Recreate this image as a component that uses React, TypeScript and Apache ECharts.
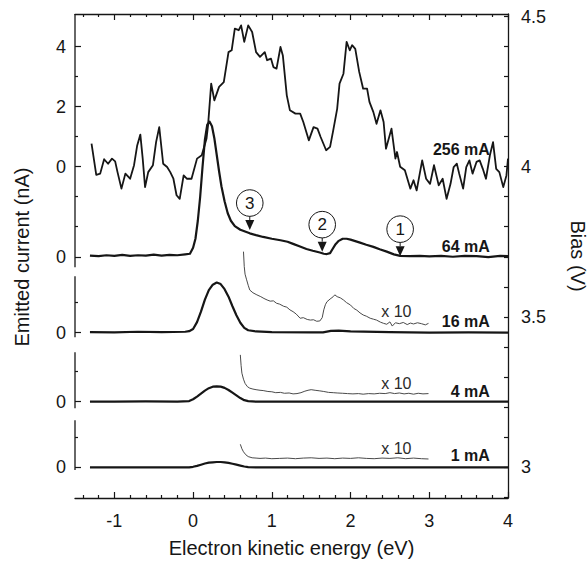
import React, { useEffect, useRef } from 'react';
import * as echarts from 'echarts';

const FONT = '"Liberation Sans", Arial, Helvetica, sans-serif';
const INK = '#161616';
const THIN = '#4a4a4a';

// ---- axes ----
const energyMajorTicks = [-1, 0, 1, 2, 3, 4];
const energyMinorTicks = [-1.4, -1.2, -0.8, -0.6, -0.4, -0.2, 0.2, 0.4, 0.6, 0.8, 1.2, 1.4, 1.6, 1.8, 2.2, 2.4, 2.6, 2.8, 3.2, 3.4, 3.6, 3.8];
const biasTicks = [2.9, 3.0, 3.1, 3.2, 3.3, 3.4, 3.5, 3.6, 3.7, 3.8, 3.9, 4.0, 4.1, 4.2, 4.3, 4.4, 4.5];
const biasLabels = [3, 3.5, 4, 4.5];
const BIAS_MIN = 2.896;
const BIAS_MAX = 4.509;
const NA_TO_V = 0.1; // vertical scale: 1 nA per 0.1 V
const leftTitle = 'Emitted current (nA)';

// ---- panels (offset baselines on bias axis) ----
const panelNames = ['256 mA', '64 mA', '16 mA', '4 mA', '1 mA'];
const panelBase = [4.0, 3.70, 3.447, 3.217, 2.998];
const panelMajorTicks = [[0, 2, 4], [0], [0], [0], [0]];
const panelMinorTicks = [[-1, 1, 3], [1], [1], [1], [1]];
const leftAxisSegments = [[4.509, 3.665], [3.635, 3.432], [3.382, 3.195], [3.155, 2.989]];
const panelLabelEnergy = 3.77;
const panelLabelOffset = [0.56, 0.33, 0.37, 0.33, 0.39];
const x10Panels = [2, 3, 4];
const x10Energy = 2.39;
const x10Offset = [0.7, 0.61, 0.63];

// ---- 256 mA ----
const e256 = [-1.29, -1.23, -1.18, -1.13, -1.08, -1.03, -0.99, -0.96, -0.91, -0.86, -0.80, -0.75, -0.71, -0.67, -0.64, -0.61, -0.57, -0.51, -0.47, -0.43, -0.38, -0.33, -0.29, -0.25, -0.21, -0.17, -0.12, -0.08, -0.02, 0.05, 0.11, 0.17, 0.19, 0.23, 0.27, 0.33, 0.39, 0.45, 0.49, 0.53, 0.58, 0.61, 0.65, 0.70, 0.75, 0.80, 0.85, 0.91, 0.94, 0.99, 1.02, 1.06, 1.11, 1.14, 1.19, 1.23, 1.30, 1.36, 1.40, 1.47, 1.53, 1.58, 1.62, 1.69, 1.74, 1.78, 1.83, 1.86, 1.91, 1.95, 1.99, 2.02, 2.06, 2.11, 2.16, 2.21, 2.24, 2.29, 2.33, 2.38, 2.42, 2.45, 2.52, 2.57, 2.59, 2.63, 2.69, 2.76, 2.80, 2.84, 2.91, 2.96, 3.01, 3.06, 3.12, 3.17, 3.22, 3.27, 3.31, 3.35, 3.38, 3.43, 3.47, 3.51, 3.55, 3.60, 3.64, 3.68, 3.72, 3.77, 3.81, 3.85, 3.89, 3.94, 3.98, 4.0];
const i256 = [0.77, -0.27, -0.23, 0.25, 0.1, 0.27, 0.18, -0.18, -0.73, -0.23, -0.4, 0.05, 0.71, 1.07, 0.27, -0.68, -0.18, 0.05, 0.82, 1.32, 0.1, -0.01, -0.18, -0.4, -0.95, -1.07, -0.29, -0.4, -0.4, 0.27, 0.38, 0.93, 1.38, 2.77, 2.21, 2.66, 2.82, 3.82, 3.88, 4.6, 4.55, 4.71, 4.16, 4.71, 4.49, 3.82, 3.66, 3.82, 3.55, 3.6, 3.32, 3.27, 3.99, 3.71, 2.38, 1.88, 1.77, 1.77, 1.49, 0.88, 1.32, 1.27, 0.99, 0.55, 0.66, 1.21, 1.93, 2.77, 3.1, 4.16, 3.88, 4.05, 3.93, 3.16, 2.6, 2.6, 2.16, 1.82, 1.43, 1.88, 1.49, 0.6, 1.27, 0.27, 0.49, 0, -0.12, -0.73, -0.45, -0.79, 0.21, -0.4, -0.57, 0.05, -0.62, -0.4, -1.07, -0.57, -0.01, 0.1, -0.23, -0.73, -0.01, 0.21, -0.23, 0.16, 0.21, -0.07, -0.4, 0.38, 0.82, -0.07, -0.18, -0.68, -0.29, 0.27];

// ---- 64 mA ----
const e64 = [-1.31, -1.2, -1.1, -1.0, -0.9, -0.8, -0.7, -0.6, -0.5, -0.4, -0.3, -0.2, -0.1, -0.04, 0.0, 0.03, 0.06, 0.09, 0.12, 0.15, 0.18, 0.21, 0.24, 0.27, 0.30, 0.33, 0.36, 0.40, 0.44, 0.48, 0.53, 0.60, 0.66, 0.72, 0.80, 0.89, 1.0, 1.11, 1.2, 1.27, 1.35, 1.44, 1.52, 1.61, 1.66, 1.70, 1.74, 1.77, 1.81, 1.85, 1.90, 1.95, 2.0, 2.06, 2.12, 2.2, 2.29, 2.37, 2.46, 2.55, 2.63, 2.75, 2.88, 3.0, 3.15, 3.3, 3.45, 3.6, 3.75, 3.9, 4.0];
const i64 = [0.04, 0.02, 0.05, 0.03, 0.06, 0.03, 0.05, 0.04, 0.07, 0.04, 0.06, 0.05, 0.08, 0.1, 0.3, 0.6, 1.2, 2.0, 3.0, 3.9, 4.4, 4.5, 4.35, 3.95, 3.4, 2.85, 2.35, 1.85, 1.45, 1.2, 1.02, 0.9, 0.84, 0.78, 0.72, 0.66, 0.6, 0.55, 0.5, 0.43, 0.35, 0.26, 0.2, 0.14, 0.1, 0.09, 0.12, 0.25, 0.42, 0.53, 0.6, 0.6, 0.57, 0.52, 0.47, 0.4, 0.33, 0.25, 0.17, 0.08, 0.03, 0.02, 0.03, 0.01, 0.03, 0.0, 0.03, 0.02, -0.01, 0.03, 0.02];

// ---- 16 mA ----
const e16 = [-1.31, -1.0, -0.7, -0.4, -0.1, -0.05, 0.0, 0.05, 0.1, 0.15, 0.2, 0.25, 0.3, 0.35, 0.4, 0.45, 0.5, 0.55, 0.6, 0.65, 0.7, 0.8, 1.0, 1.5, 1.65, 1.75, 1.85, 2.0, 2.5, 3.0, 3.5, 4.0];
const i16 = [0.02, 0.01, 0.03, 0.02, 0.03, 0.05, 0.12, 0.35, 0.7, 1.1, 1.42, 1.6, 1.67, 1.62, 1.45, 1.2, 0.88, 0.58, 0.33, 0.16, 0.08, 0.04, 0.02, 0.01, 0.01, 0.06, 0.07, 0.04, 0.02, 0.0, 0.01, 0.0];
const e16x10 = [0.64, 0.65, 0.66, 0.68, 0.7, 0.72, 0.76, 0.81, 0.86, 0.9, 0.94, 0.98, 1.02, 1.06, 1.1, 1.15, 1.19, 1.23, 1.27, 1.31, 1.36, 1.4, 1.45, 1.49, 1.53, 1.57, 1.61, 1.64, 1.66, 1.68, 1.70, 1.74, 1.78, 1.80, 1.83, 1.87, 1.91, 1.95, 2.0, 2.04, 2.08, 2.12, 2.16, 2.2, 2.25, 2.29, 2.33, 2.38, 2.42, 2.46, 2.5, 2.53, 2.57, 2.62, 2.67, 2.72, 2.76, 2.8, 2.85, 2.9, 2.95, 2.99];
const i16x10 = [2.7, 2.2, 1.95, 1.76, 1.58, 1.42, 1.33, 1.26, 1.2, 1.14, 1.09, 1.05, 1.06, 0.98, 0.95, 0.88, 0.85, 0.76, 0.7, 0.62, 0.48, 0.5, 0.44, 0.42, 0.43, 0.38, 0.39, 0.5, 0.76, 0.93, 1.03, 1.12, 1.2, 1.26, 1.2, 1.16, 1.09, 1.0, 0.92, 0.81, 0.75, 0.66, 0.59, 0.55, 0.48, 0.45, 0.42, 0.35, 0.31, 0.28, 0.36, 0.22, 0.33, 0.3, 0.34, 0.27, 0.32, 0.29, 0.33, 0.3, 0.26, 0.31];

// ---- 4 mA ----
const e4 = [-1.31, -1.0, -0.6, -0.2, -0.05, 0.0, 0.05, 0.1, 0.15, 0.2, 0.25, 0.3, 0.35, 0.4, 0.45, 0.5, 0.55, 0.6, 0.65, 0.7, 0.8, 1.5, 2.5, 3.2, 4.0];
const i4 = [0.0, 0.0, 0.01, 0.0, 0.02, 0.08, 0.17, 0.27, 0.37, 0.45, 0.5, 0.51, 0.5, 0.46, 0.39, 0.3, 0.21, 0.12, 0.05, 0.02, 0.0, 0.0, 0.0, 0.0, 0.0];
const e4x10 = [0.60, 0.61, 0.62, 0.64, 0.66, 0.69, 0.72, 0.76, 0.8, 0.85, 0.89, 0.95, 1.0, 1.05, 1.11, 1.16, 1.22, 1.27, 1.32, 1.37, 1.42, 1.46, 1.5, 1.55, 1.61, 1.66, 1.72, 1.78, 1.83, 1.9, 1.96, 2.03, 2.1, 2.16, 2.23, 2.3, 2.37, 2.44, 2.5, 2.56, 2.62, 2.68, 2.74, 2.8, 2.86, 2.92, 2.99];
const i4x10 = [1.56, 1.2, 0.95, 0.75, 0.61, 0.5, 0.45, 0.42, 0.4, 0.38, 0.37, 0.34, 0.33, 0.3, 0.31, 0.28, 0.29, 0.26, 0.27, 0.3, 0.35, 0.38, 0.4, 0.38, 0.36, 0.34, 0.31, 0.3, 0.29, 0.28, 0.27, 0.26, 0.27, 0.25, 0.27, 0.26, 0.28, 0.27, 0.3, 0.27, 0.29, 0.26, 0.28, 0.25, 0.28, 0.26, 0.27];

// ---- 1 mA ----
const e1 = [-1.31, -0.5, -0.05, 0.0, 0.05, 0.1, 0.15, 0.2, 0.25, 0.3, 0.35, 0.4, 0.45, 0.5, 0.55, 0.6, 0.65, 0.7, 0.8, 2.0, 4.0];
const i1 = [0.0, 0.0, 0.0, 0.02, 0.05, 0.09, 0.13, 0.16, 0.17, 0.18, 0.18, 0.17, 0.15, 0.12, 0.09, 0.06, 0.03, 0.01, 0.0, 0.0, 0.0];
const e1x10 = [0.60, 0.62, 0.64, 0.67, 0.70, 0.75, 0.8, 0.85, 0.92, 1.0, 1.1, 1.2, 1.3, 1.4, 1.5, 1.6, 1.7, 1.8, 1.9, 2.0, 2.1, 2.2, 2.3, 2.4, 2.5, 2.6, 2.7, 2.8, 2.9, 2.99];
const i1x10 = [0.77, 0.62, 0.52, 0.42, 0.36, 0.32, 0.31, 0.3, 0.31, 0.29, 0.3, 0.31, 0.29, 0.31, 0.32, 0.3, 0.31, 0.29, 0.31, 0.3, 0.32, 0.3, 0.29, 0.31, 0.3, 0.32, 0.29, 0.31, 0.29, 0.28];

// ---- arrows (on 64 mA trace) ----
const arrowEnergy = [0.72, 1.64, 2.63];
const arrowTipCurrent = [0.89, 0.17, 0.02];
const arrowLabels = ['3', '2', '1'];

const toData = (e: number[], c: number[], base: number) => e.map((x, k) => [x, base + NA_TO_V * c[k]]);

const leftMajorVals: number[] = [];
const leftMajorText: string[] = [];
const leftMinorVals: number[] = [];
panelBase.forEach((b, p) => {
  panelMajorTicks[p].forEach((t) => { leftMajorVals.push(+(b + NA_TO_V * t).toFixed(4)); leftMajorText.push(String(t)); });
  panelMinorTicks[p].forEach((t) => leftMinorVals.push(+(b + NA_TO_V * t).toFixed(4)));
});

export default function App() {
  const ref = useRef<HTMLDivElement>(null);
  useEffect(() => {
    if (!ref.current) return;
    const chart = echarts.init(ref.current, undefined, { renderer: 'svg' });

    const xCommon = (pos: string, ticks: number[], len: number, labels: boolean, line: boolean, extra: any = {}) => ({
      type: 'value', position: pos, min: -1.5, max: 4,
      axisLine: { show: line, onZero: false, lineStyle: { color: INK, width: 1.3 } },
      axisTick: { show: true, inside: true, length: len, customValues: ticks, lineStyle: { color: INK, width: 1.2 } },
      axisLabel: labels ? { show: true, customValues: ticks, fontSize: 18, color: INK, margin: 14, fontFamily: FONT } : { show: false },
      splitLine: { show: false },
      ...extra,
    });
    const yCommon = (pos: string, ticks: number[], len: number, line: boolean, extra: any = {}) => ({
      type: 'value', position: pos, min: BIAS_MIN, max: BIAS_MAX,
      axisLine: { show: line, onZero: false, lineStyle: { color: INK, width: 1.3 } },
      axisTick: { show: true, inside: true, length: len, customValues: ticks, lineStyle: { color: INK, width: 1.2 } },
      axisLabel: { show: false },
      splitLine: { show: false },
      ...extra,
    });

    const lineSeries = (data: number[][], width: number, color: string) => ({
      type: 'line', data, showSymbol: false, symbol: 'none', smooth: false,
      lineStyle: { color, width, join: 'round' }, xAxisIndex: 0, yAxisIndex: 0, silent: true,
    });

    const labelData = panelBase.map((b, p) => [panelLabelEnergy, b + NA_TO_V * panelLabelOffset[p]]);
    const x10Data = x10Panels.map((p, k) => [x10Energy, panelBase[p] + NA_TO_V * x10Offset[k]]);
    const arrowData = arrowEnergy.map((e, k) => [e, panelBase[1] + NA_TO_V * arrowTipCurrent[k]]);
    const segData = leftAxisSegments.map((s) => [-1.5, s[0], s[1]]);

    chart.setOption({
      animation: false,
      backgroundColor: '#ffffff',
      textStyle: { fontFamily: FONT, color: INK },
      grid: { left: 75, right: 80, top: 14, bottom: 71, containLabel: false, outerBoundsMode: 'none' },
      graphic: [
        {
          type: 'text', x: 22, y: 257, rotation: Math.PI / 2,
          style: { text: leftTitle, fill: '#161616', font: `20px ${FONT}`, textAlign: 'center', textVerticalAlign: 'middle', align: 'center', verticalAlign: 'middle' },
        },
      ],
      xAxis: [
        xCommon('bottom', energyMajorTicks, 6, true, true, {
          name: 'Electron kinetic energy (eV)', nameLocation: 'middle', nameGap: 40,
          nameTextStyle: { fontSize: 20, color: INK, fontFamily: FONT },
        }),
        xCommon('bottom', energyMinorTicks, 3, false, false),
        xCommon('top', energyMajorTicks, 6, false, true),
        xCommon('top', energyMinorTicks, 3, false, false),
      ],
      yAxis: [
        yCommon('right', biasTicks, 4, true, {
          axisLabel: { show: true, customValues: biasLabels, fontSize: 18, color: INK, margin: 13, fontFamily: FONT },
          name: 'Bias (V)', nameLocation: 'middle', nameRotate: -90, nameGap: 60,
          nameTextStyle: { fontSize: 20, color: INK, fontFamily: FONT },
        }),
        yCommon('left', leftMajorVals, 6, false, {
          axisLabel: {
            show: true, customValues: leftMajorVals, fontSize: 18, color: INK, margin: 9, fontFamily: FONT,
            formatter: (v: number) => {
              const k = leftMajorVals.findIndex((m) => Math.abs(m - v) < 1e-6);
              return k >= 0 ? leftMajorText[k] : '';
            },
          },
        }),
        yCommon('left', leftMinorVals, 3, false),
      ],
      series: [
        {
          type: 'custom', data: segData, xAxisIndex: 0, yAxisIndex: 0, silent: true,
          renderItem: (params: any, api: any) => {
            const a = api.coord([api.value(0), api.value(1)]);
            const b = api.coord([api.value(0), api.value(2)]);
            return { type: 'line', shape: { x1: a[0], y1: a[1], x2: b[0], y2: b[1] }, style: { stroke: INK, lineWidth: 1.3 } };
          },
        },
        lineSeries(toData(e256, i256, panelBase[0]), 1.8, INK),
        lineSeries(toData(e64, i64, panelBase[1]), 2.2, INK),
        lineSeries(toData(e16, i16, panelBase[2]), 2.2, INK),
        lineSeries(toData(e16x10, i16x10, panelBase[2]), 1, THIN),
        lineSeries(toData(e4, i4, panelBase[3]), 2.2, INK),
        lineSeries(toData(e4x10, i4x10, panelBase[3]), 1, THIN),
        lineSeries(toData(e1, i1, panelBase[4]), 2.2, INK),
        lineSeries(toData(e1x10, i1x10, panelBase[4]), 1, THIN),
        {
          type: 'custom', data: arrowData, xAxisIndex: 0, yAxisIndex: 0, silent: true,
          renderItem: (params: any, api: any) => {
            const t = api.coord([api.value(0), api.value(1)]);
            const x = t[0], y = t[1];
            return {
              type: 'group',
              children: [
                { type: 'polygon', shape: { points: [[x, y], [x - 4.5, y - 10], [x + 4.5, y - 10]] }, style: { fill: INK } },
                { type: 'line', shape: { x1: x, y1: y - 10, x2: x, y2: y - 14 }, style: { stroke: INK, lineWidth: 1 } },
                { type: 'circle', shape: { cx: x, cy: y - 27, r: 13.3 }, style: { fill: '#ffffff', stroke: INK, lineWidth: 1 } },
                {
                  type: 'text', x, y: y - 27,
                  style: { text: arrowLabels[params.dataIndex], fill: INK, font: `17px ${FONT}`, textAlign: 'center', textVerticalAlign: 'middle', align: 'center', verticalAlign: 'middle' },
                },
              ],
            };
          },
        },
        {
          type: 'custom', data: labelData, xAxisIndex: 0, yAxisIndex: 0, silent: true,
          renderItem: (params: any, api: any) => {
            const t = api.coord([api.value(0), api.value(1)]);
            return {
              type: 'text', x: t[0], y: t[1],
              style: { text: panelNames[params.dataIndex], fill: INK, font: `bold 16px ${FONT}`, textAlign: 'right', textVerticalAlign: 'middle', align: 'right', verticalAlign: 'middle' },
            };
          },
        },
        {
          type: 'custom', data: x10Data, xAxisIndex: 0, yAxisIndex: 0, silent: true,
          renderItem: (params: any, api: any) => {
            const t = api.coord([api.value(0), api.value(1)]);
            return {
              type: 'text', x: t[0], y: t[1],
              style: { text: 'x 10', fill: '#2a2a2a', font: `16px ${FONT}`, textAlign: 'left', textVerticalAlign: 'middle', align: 'left', verticalAlign: 'middle' },
            };
          },
        },
      ],
    });
    return () => chart.dispose();
  }, []);
  return <div ref={ref} style={{ position: 'absolute', left: 0, top: 0, width: 588, height: 569, background: '#fff' }} />;
}
